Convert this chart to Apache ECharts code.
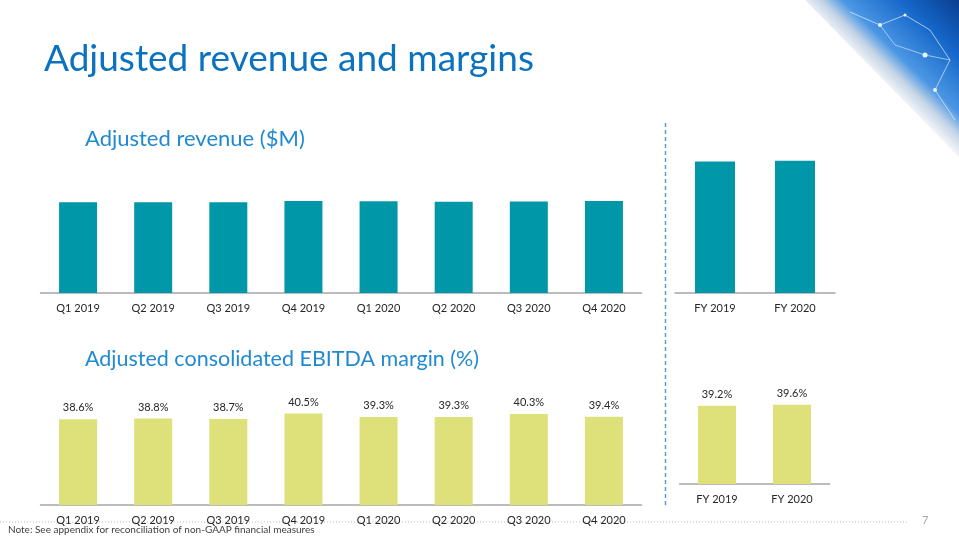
<!DOCTYPE html>
<html>
<head>
<meta charset="utf-8">
<script src="https://cdn.jsdelivr.net/npm/echarts@6/dist/echarts.min.js"></script>
<style>
html,body{margin:0;padding:0;background:#fff;}
#chart{width:959px;height:540px;}
</style>
</head>
<body>
<div id="chart"></div>
<script>
// ---- data ----
const quarters = ['Q1 2019','Q2 2019','Q3 2019','Q4 2019','Q1 2020','Q2 2020','Q3 2020','Q4 2020'];
const quarterRevenue = [428, 428, 428, 434, 433, 430, 431, 434];
const years = ['FY 2019','FY 2020'];
const yearRevenue = [1718, 1728];
const quarterMargin = [38.6, 38.8, 38.7, 40.5, 39.3, 39.3, 40.3, 39.4];
const yearMargin = [39.2, 39.6];

const FONT = 'Lato, "Open Sans", sans-serif';
const TEAL = '#0097a9';
const LIME = '#dee17a';
const AXIS = '#a6a6a6';
const LABEL = '#262626';

function xAx(idx, cats) {
  return {
    type: 'category', gridIndex: idx, data: cats,
    axisLine: {lineStyle: {color: AXIS, width: 1.5}},
    axisTick: {show: false},
    axisLabel: {color: LABEL, fontSize: 11, fontFamily: FONT, margin: 10}
  };
}
function yAx(idx, min, max) {
  return {type: 'value', gridIndex: idx, min: min, max: max, show: false, splitLine: {show: false}};
}

const chart = echarts.init(document.getElementById('chart'), null, {renderer: 'canvas'});
chart.setOption({
  animation: false,
  backgroundColor: '#fff',
  grid: [
    {left: 40.5, top: 170, width: 601, height: 123},
    {left: 675, top: 130, width: 160, height: 163},
    {left: 40.5, top: 400, width: 601, height: 105},
    {left: 679.5, top: 384, width: 150, height: 100}
  ],
  xAxis: [xAx(0, quarters), xAx(1, years), xAx(2, quarters), xAx(3, years)],
  yAxis: [yAx(0, 0, 580), yAx(1, 0, 2130), yAx(2, 10, 45), yAx(3, 10, 47.3)],
  series: [
    {type: 'bar', xAxisIndex: 0, yAxisIndex: 0, data: quarterRevenue, barWidth: 38, itemStyle: {color: TEAL}},
    {type: 'bar', xAxisIndex: 1, yAxisIndex: 1, data: yearRevenue, barWidth: 40, itemStyle: {color: TEAL}},
    {type: 'bar', xAxisIndex: 2, yAxisIndex: 2, data: quarterMargin, barWidth: 38, itemStyle: {color: LIME},
     label: {show: true, position: 'top', distance: 6, formatter: '{c}%', color: LABEL, fontSize: 11, fontFamily: FONT}},
    {type: 'bar', xAxisIndex: 3, yAxisIndex: 3, data: yearMargin, barWidth: 38, itemStyle: {color: LIME},
     label: {show: true, position: 'top', distance: 6, formatter: '{c}%', color: LABEL, fontSize: 11, fontFamily: FONT}}
  ],
  graphic: [
    // decorative corner
    {type: 'polygon', shape: {points: [[805,0],[959,0],[959,157]]},
     style: {fill: new echarts.graphic.LinearGradient(0, 1, 1, 0, [
       {offset: 0.5, color: '#eef2f6'},
       {offset: 0.56, color: '#c2d3e6'},
       {offset: 0.63, color: '#4b96e4'},
       {offset: 0.82, color: '#1466c8'},
       {offset: 1, color: '#0a3f8f'}
     ])}},
    {type: 'polyline', shape: {points: [[850,12],[880,25],[905,15],[930,30],[950,60],[935,90],[955,120]]},
     style: {stroke: 'rgba(220,240,255,0.7)', lineWidth: 1, fill: null}},
    {type: 'polyline', shape: {points: [[880,25],[895,45],[925,55],[950,60]]},
     style: {stroke: 'rgba(220,240,255,0.6)', lineWidth: 1, fill: null}},
    {type: 'circle', shape: {cx: 880, cy: 25, r: 2}, style: {fill: '#eaf6ff'}},
    {type: 'circle', shape: {cx: 925, cy: 55, r: 2.5}, style: {fill: '#eaf6ff'}},
    {type: 'circle', shape: {cx: 935, cy: 90, r: 2}, style: {fill: '#eaf6ff'}},
    {type: 'circle', shape: {cx: 905, cy: 15, r: 1.5}, style: {fill: '#eaf6ff'}},
    // titles
    {type: 'text', left: 44, top: 41, style: {text: 'Adjusted revenue and margins', fill: '#0b72c0', font: '37px ' + FONT}},
    {type: 'text', left: 85, top: 128, style: {text: 'Adjusted revenue ($M)', fill: '#1f8ad2', font: '22px ' + FONT}},
    {type: 'text', left: 85, top: 348, style: {text: 'Adjusted consolidated EBITDA margin (%)', fill: '#1f8ad2', font: '21.5px ' + FONT}},
    // separators
    {type: 'line', shape: {x1: 665.5, y1: 123, x2: 665.5, y2: 508},
     style: {stroke: '#5b9bd5', lineWidth: 1.5, lineDash: [4, 3]}},
    {type: 'line', shape: {x1: 0, y1: 522, x2: 907, y2: 522},
     style: {stroke: '#bfbfbf', lineWidth: 1, lineDash: [1, 2]}, z: -1},
    // footer
    {type: 'text', left: 8, top: 525, style: {text: 'Note: See appendix for reconciliation of non-GAAP financial measures', fill: '#404040', font: '10px ' + FONT}},
    {type: 'text', left: 922, top: 515, style: {text: '7', fill: '#a6a6a6', font: '11px ' + FONT}}
  ]
});
</script>
</body>
</html>
